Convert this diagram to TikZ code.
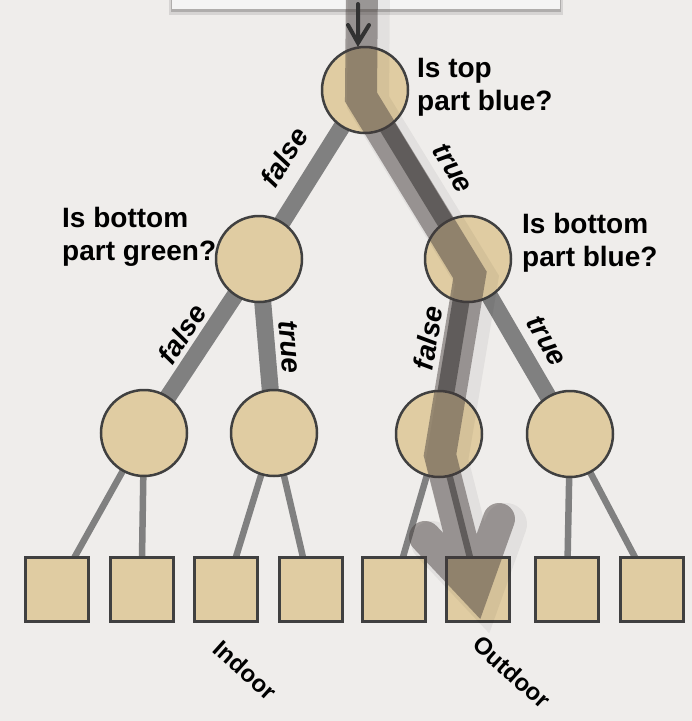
\documentclass[tikz,border=0pt]{standalone}
\usepackage{fontspec}
\setmainfont{Liberation Sans}
\usetikzlibrary{backgrounds,shadows}
\definecolor{bg}{RGB}{239,237,235}
\definecolor{tanfill}{RGB}{224,204,162}
\definecolor{edgec}{RGB}{128,128,128}
\definecolor{outl}{RGB}{64,64,64}
\definecolor{pathc}{RGB}{70,62,60}
\definecolor{arrowc}{RGB}{50,50,50}
\definecolor{boxc}{RGB}{244,244,244}
\tikzset{
  dnode/.style={circle, draw=outl, line width=2.5pt, fill=tanfill, minimum size=86pt, inner sep=0pt},
  leafbox/.style={rectangle, draw=outl, line width=3pt, fill=tanfill, minimum width=63pt, minimum height=64pt, inner sep=0pt},
  thickedge/.style={edgec, line width=17pt},
  thinedge/.style={edgec, line width=6.5pt},
  question/.style={font=\bfseries\fontsize{28}{33}\selectfont, align=left, inner sep=0pt, anchor=north west, text=black},
  elabel/.style={font=\bfseries\itshape\fontsize{28}{32}\selectfont, inner sep=0pt, text=black},
  leaflabel/.style={font=\bfseries\fontsize{24}{28}\selectfont, inner sep=0pt, text=black, rotate=-42},
  route/.style={pathc, line width=32pt, line join=miter, line cap=round},
}
\begin{document}
\begin{tikzpicture}[x=1pt,y=-1pt]
\useasboundingbox (0,0) rectangle (692,721);

% decision nodes
\node[dnode] (root) at (365,90) {};
\node[dnode] (L1) at (259,259) {};
\node[dnode] (R1) at (468,259) {};
\node[dnode] (a) at (144,433) {};
\node[dnode] (b) at (274,433) {};
\node[dnode] (c) at (439,434) {};
\node[dnode] (d) at (570,434) {};

% leaves
\foreach \n/\x in {s1/56.5, s2/141.5, s3/226, s4/310.5, s5/393.5, s6/478, s7/567, s8/652}
  \node[leafbox] (\n) at (\x,589.5) {};

\begin{pgfonlayer}{background}
  \fill[bg] (0,0) rectangle (692,721);
  \fill[black, opacity=0.10] (169,-20) rectangle (563,15);
  \fill[black, opacity=0.18] (171,-20) rectangle (561,12);
  \fill[boxc] (172,-20) rectangle (560,9);
  \draw[thickedge] (root.center) -- (L1.center);
  \draw[thickedge] (root.center) -- (R1.center);
  \draw[thickedge] (L1.center) -- (a.center);
  \draw[thickedge] (L1.center) -- (b.center);
  \draw[thickedge] (R1.center) -- (c.center);
  \draw[thickedge] (R1.center) -- (d.center);
  \draw[thinedge] (a.center) -- (s1.center);
  \draw[thinedge] (a.center) -- (s2.center);
  \draw[thinedge] (b.center) -- (s3.center);
  \draw[thinedge] (b.center) -- (s4.center);
  \draw[thinedge] (c.center) -- (s5.center);
  \draw[thinedge] (c.center) -- (s6.center);
  \draw[thinedge] (d.center) -- (s7.center);
  \draw[thinedge] (d.center) -- (s8.center);
\end{pgfonlayer}

% highlighted route
\coordinate (p0) at (362,-20);
\coordinate (p1) at (361,97);
\coordinate (p2) at (470,275);
\coordinate (p3) at (440,455);
\coordinate (pj) at (474,589);
\coordinate (pl) at (425,537);
\coordinate (pr) at (499,519);
\draw[route, black, opacity=0.05, line width=42pt, transform canvas={xshift=7pt,yshift=-5pt}]
  (p0) -- (p1) -- (p2) -- (p3) -- (pj) (pl) -- (pj) -- (pr);
\draw[route, opacity=0.48] (p0) -- (p1) -- (p2) -- (p3) -- (pj) (pl) -- (pj) -- (pr);

% input arrow
\coordinate (ain) at (358,4);
\coordinate (atip) at (358,43);
\coordinate (al) at (348,25);
\coordinate (ar) at (369,25);
\draw[arrowc, line width=4pt, line cap=round, line join=miter] (ain) -- (atip) (al) -- (atip) -- (ar);

% questions
\node[question] (q1) at (417,58) {Is top\\part blue?};
\node[question] (q2) at (62,207) {Is bottom\\part green?};
\node[question] (q3) at (522,213) {Is bottom\\part blue?};

% edge labels
\node[elabel, rotate=58] (f1) at (284,157) {false};
\node[elabel, rotate=-58.6] (t1) at (453,168) {true};
\node[elabel, rotate=56.5] (f2) at (182,334) {false};
\node[elabel, rotate=-85] (t2) at (290,347) {true};
\node[elabel, rotate=80.6] (f3) at (428,338) {false};
\node[elabel, rotate=-59.8] (t3) at (547,341) {true};

% leaf labels
\node[leaflabel] (indoor) at (245,670) {Indoor};
\node[leaflabel] (outdoor) at (512,672) {Outdoor};
\end{tikzpicture}
\end{document}
